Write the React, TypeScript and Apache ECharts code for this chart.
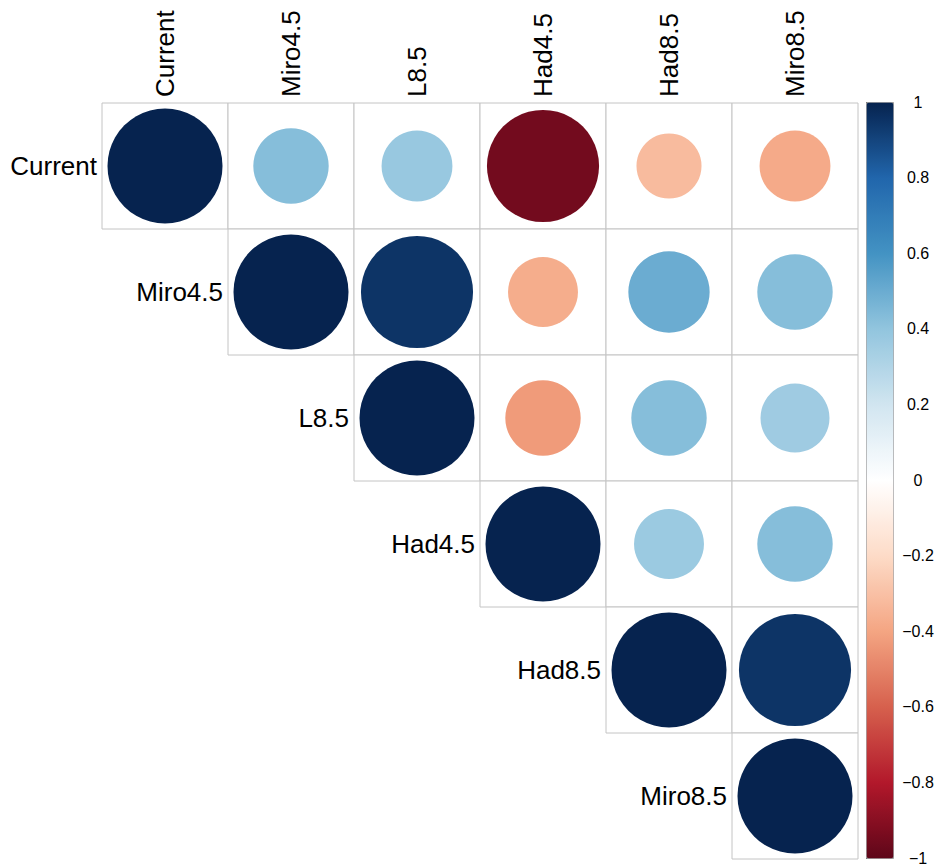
import React, { useEffect, useRef } from "react";
import * as echarts from "echarts";

const categories = ["Current", "Miro4.5", "L8.5", "Had4.5", "Had8.5", "Miro8.5"];
// upper triangle rows, each starting at the diagonal
const rowCurrent = [1, 0.43, 0.38, -0.95, -0.32, -0.38];
const rowMiro45 = [1, 0.95, -0.37, 0.5, 0.43];
const rowL85 = [1, -0.43, 0.43, 0.36];
const rowHad45 = [1, 0.37, 0.43];
const rowHad85 = [1, 0.95];
const rowMiro85 = [1];
const upperRows = [rowCurrent, rowMiro45, rowL85, rowHad45, rowHad85, rowMiro85];

const rdbu = [
  "#5E0619", "#B2182B", "#D6604D", "#F4A582", "#FDDBC7", "#FFFFFF",
  "#D1E5F0", "#92C5DE", "#4393C3", "#2166AC", "#06234F",
];

const FONT = "'Liberation Sans', Arial, Helvetica, sans-serif";

export default function App() {
  const ref = useRef<HTMLDivElement>(null);
  useEffect(() => {
    if (!ref.current) return;
    const chart = echarts.init(ref.current, undefined, { renderer: "svg" });

    const circles: any[] = [];
    const cells: any[] = [];
    const diag: any[] = [];
    upperRows.forEach((row, i) => {
      row.forEach((v, k) => {
        const j = i + k;
        circles.push([j, i, v]);
        cells.push([j, i]);
      });
      diag.push([i, i, categories[i]]);
    });

    const maxD = 115;

    chart.setOption({
      animation: false,
      backgroundColor: "#ffffff",
      grid: [
        { left: 102, top: 103, width: 756, height: 756 },
        { left: 866, top: 102, width: 27, height: 756 },
      ],
      xAxis: [
        {
          type: "category",
          data: categories,
          position: "top",
          gridIndex: 0,
          axisLine: { show: false },
          axisTick: { show: false },
          splitLine: { show: false },
          axisLabel: {
            rotate: -90,
            margin: 6,
            fontSize: 26,
            color: "#000",
            fontFamily: FONT,
            interval: 0,
          },
        },
        { type: "value", gridIndex: 1, show: false, min: 0, max: 1 },
      ],
      yAxis: [
        {
          type: "category",
          data: categories,
          inverse: true,
          gridIndex: 0,
          axisLine: { show: false },
          axisTick: { show: false },
          axisLabel: { show: false },
          splitLine: { show: false },
        },
        {
          type: "value",
          gridIndex: 1,
          min: -1,
          max: 1,
          interval: 0.2,
          position: "right",
          axisLine: { show: false },
          splitLine: { show: false },
          axisTick: { show: true, length: 4, lineStyle: { color: "#222" } },
          axisLabel: {
            margin: 25,
            align: "center",
            fontSize: 16,
            color: "#000",
            fontFamily: FONT,
            formatter: (v: number) => {
              const r = +v.toFixed(1);
              return r < 0 ? "\u2212" + Math.abs(r) : String(r);
            },
          },
        },
      ],
      visualMap: {
        type: "continuous",
        min: -1,
        max: 1,
        dimension: 2,
        seriesIndex: 1,
        calculable: false,
        hoverLink: false,
        orient: "vertical",
        left: 866,
        top: 102,
        itemWidth: 27,
        itemHeight: 756,
        padding: 0,
        borderColor: "#999",
        borderWidth: 1,
        text: ["", ""],
        inRange: { color: rdbu },
      },
      series: [
        {
          type: "custom",
          xAxisIndex: 0,
          yAxisIndex: 0,
          silent: true,
          data: cells,
          renderItem: (params: any, api: any) => {
            const c = api.coord([api.value(0), api.value(1)]);
            const s = api.size([1, 1]);
            return {
              type: "rect",
              shape: { x: c[0] - s[0] / 2, y: c[1] - s[1] / 2, width: s[0], height: s[1] },
              style: { fill: "#fff", stroke: "#c4c4c4", lineWidth: 1 },
            };
          },
        },
        {
          type: "scatter",
          xAxisIndex: 0,
          yAxisIndex: 0,
          data: circles,
          symbol: "circle",
          symbolSize: (d: number[]) => maxD * Math.sqrt(Math.abs(d[2])),
          itemStyle: { opacity: 1 },
        },
        {
          type: "scatter",
          xAxisIndex: 0,
          yAxisIndex: 0,
          data: diag,
          symbolSize: 0,
          itemStyle: { color: "rgba(0,0,0,0)" },
          silent: true,
          label: {
            show: true,
            position: "left",
            distance: 68,
            fontSize: 26,
            color: "#000000",
            opacity: 1,
            textBorderWidth: 0,
            fontFamily: FONT,
            formatter: (p: any) => p.data[2],
          },
        },
      ],
    });
    return () => chart.dispose();
  }, []);
  return (
    <div
      ref={ref}
      style={{ position: "fixed", left: 0, top: 0, width: 944, height: 868, background: "#fff" }}
    />
  );
}
